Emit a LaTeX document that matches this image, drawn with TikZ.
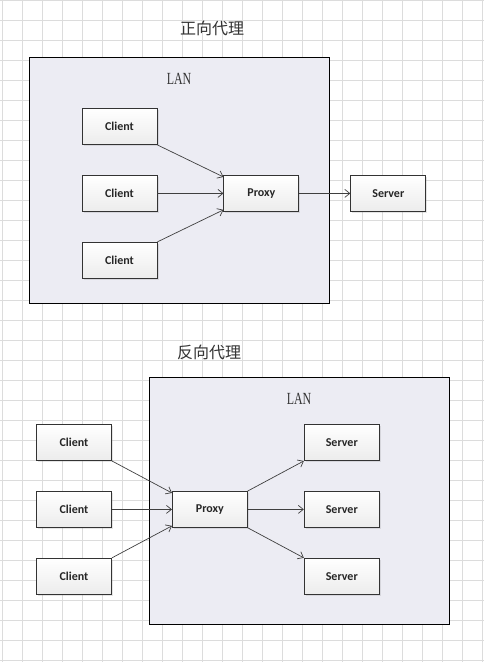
\documentclass[tikz,border=0pt]{standalone}
\usepackage{fontspec}
\usepackage{graphicx}
\setmainfont{Carlito}
\newfontfamily\cjkfont{Noto Sans CJK SC}
\newfontfamily\lanfont{Liberation Serif}
\usetikzlibrary{positioning, arrows.meta, calc, shadows}
\definecolor{gridgray}{HTML}{DCDCDC}
\definecolor{lanfill}{HTML}{ECECF3}
\definecolor{boxline}{HTML}{333333}
\definecolor{boxbottom}{HTML}{ECECEC}
\definecolor{linkgray}{HTML}{3F3F3F}

\tikzset{
  hostbox/.style={draw=boxline, line width=0.9pt, top color=white, bottom color=boxbottom,
                  minimum width=75pt, minimum height=36pt, inner sep=0pt,
                  font=\fontsize{12}{14}\selectfont\bfseries, text=black!85,
                  drop shadow={shadow xshift=1.5pt, shadow yshift=-1.5pt, opacity=0.2}},
  lanbox/.style={draw=black, line width=1pt, fill=lanfill},
  link/.style={draw=linkgray, line width=0.7pt, -{Straight Barb[length=5pt, width=8pt]}},
  heading/.style={font=\cjkfont\fontsize{16}{18}\selectfont, text=black!80},
  lanlabel/.style={font=\lanfont\fontsize{17}{18}\selectfont, text=black!80}
}

\begin{document}
\begin{tikzpicture}[x=1pt, y=-1pt]
  \useasboundingbox[fill=white] (0,0) rectangle (484,662);
  % grid paper
  \foreach \x in {2,22,...,482}
    \draw[gridgray, line width=0.8pt] (\x,0) -- (\x,662);
  \foreach \y in {0,20,...,660}
    \draw[gridgray, line width=0.8pt] (0,\y) -- (484,\y);

  % forward proxy
  \node[heading] (fwdtitle) at (212,28) {正向代理};
  \draw[lanbox] (29,57) rectangle (329,303);
  \node[lanlabel] (lanA) at (179,79) {\scalebox{0.7}[1]{LAN}};
  \node[hostbox] (clientA) at (119.5,126.5) {Client};
  \node[hostbox, below=30pt of clientA] (clientB) {Client};
  \node[hostbox, below=30pt of clientB] (clientC) {Client};
  \node[hostbox, right=66pt of clientB] (proxyA) {Proxy};
  \node[hostbox, right=51pt of proxyA] (serverX) {Server};
  \draw[link] (clientA.south east) -- ($(proxyA.north west)+(0,2)$);
  \draw[link] (clientB) -- (proxyA);
  \draw[link] (clientC.north east) -- ($(proxyA.south west)+(0,-2)$);
  \draw[link] (proxyA) -- (serverX);

  % reverse proxy
  \node[heading] (revtitle) at (209,352) {反向代理};
  \draw[lanbox] (149,377) rectangle (449,624);
  \node[lanlabel] (lanB) at (299,399) {\scalebox{0.7}[1]{LAN}};
  \node[hostbox] (clientD) at (74,442.5) {Client};
  \node[hostbox, below=30pt of clientD] (clientE) {Client};
  \node[hostbox, below=30pt of clientE] (clientF) {Client};
  \node[hostbox, right=60pt of clientE] (proxyB) {Proxy};
  \node[hostbox, right=56pt of proxyB] (serverB) {Server};
  \node[hostbox, above=30pt of serverB] (serverA) {Server};
  \node[hostbox, below=30pt of serverB] (serverC) {Server};
  \draw[link] (clientD.south east) -- ($(proxyB.north west)+(0,2)$);
  \draw[link] (clientE) -- (proxyB);
  \draw[link] (clientF.north east) -- ($(proxyB.south west)+(0,-2)$);
  \draw[link] (proxyB.north east) -- (serverA.south west);
  \draw[link] (proxyB) -- (serverB);
  \draw[link] (proxyB.south east) -- (serverC.north west);
\end{tikzpicture}
\end{document}
